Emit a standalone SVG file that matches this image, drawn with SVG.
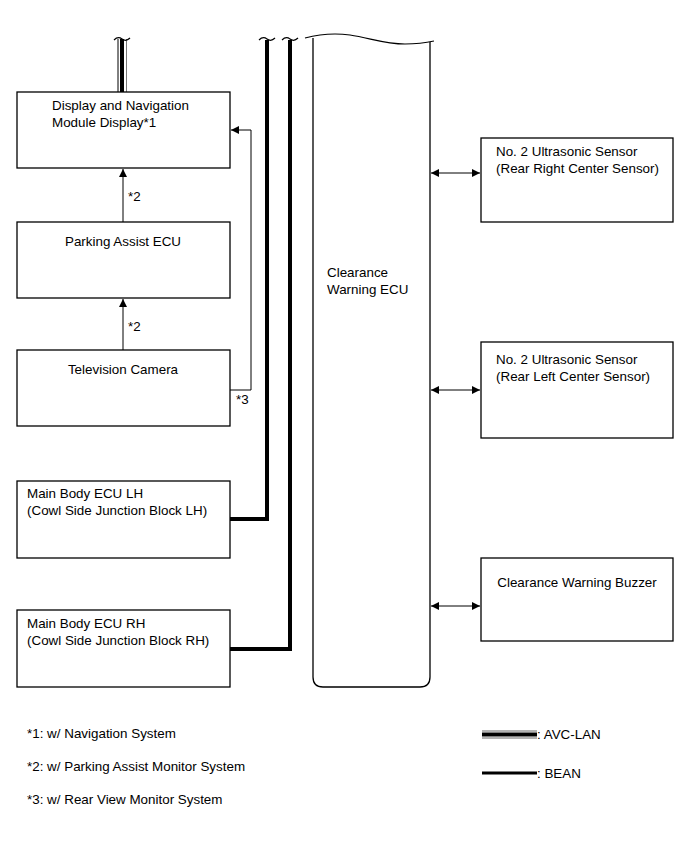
<svg xmlns="http://www.w3.org/2000/svg" width="690" height="854" viewBox="0 0 690 854">
<style>
.box{fill:#fff;stroke:#000;stroke-width:1.3}
.t{font-family:"Liberation Sans",Arial,sans-serif;font-size:13.4px;fill:#000}
.ln{fill:none;stroke:#000;stroke-width:1}
.bean{fill:none;stroke:#000;stroke-width:4}
.sq{fill:none;stroke:#000;stroke-width:1.2}
</style>
<defs>
<marker id="ah" viewBox="0 0 10 10" refX="10" refY="5" markerWidth="10" markerHeight="8" markerUnits="userSpaceOnUse" orient="auto-start-reverse">
<path d="M0,0 L10,5 L0,10 z" fill="#000"/>
</marker>
</defs>
<rect width="690" height="854" fill="#fff"/>
<g id="connectors">
<line x1="118" y1="39" x2="118" y2="92" class="ln"/>
<line x1="126.5" y1="39" x2="126.5" y2="92" stroke="#777" stroke-width="1"/>
<line x1="122" y1="39" x2="122" y2="92" stroke="#000" stroke-width="4"/>
<path d="M114,40 q4,-4 8,-1 q4,3 8,-1" class="sq"/>
<line x1="123" y1="222" x2="123" y2="169" class="ln" marker-end="url(#ah)"/>
<line x1="123" y1="350" x2="123" y2="299" class="ln" marker-end="url(#ah)"/>
<path d="M230,390 H251 V130 H231" class="ln" marker-end="url(#ah)"/>
<path d="M267,40 V519 H230" class="bean"/>
<path d="M290,40 V649 H230" class="bean"/>
<path d="M259,40 q4,-4 8,-1 q4,3 8,-1" class="sq"/>
<path d="M282,40 q4,-4 8,-1 q4,3 8,-1" class="sq"/>
<line x1="431" y1="173" x2="480" y2="173" class="ln" marker-start="url(#ah)" marker-end="url(#ah)"/>
<line x1="431" y1="390" x2="480" y2="390" class="ln" marker-start="url(#ah)" marker-end="url(#ah)"/>
<line x1="431" y1="606" x2="480" y2="606" class="ln" marker-start="url(#ah)" marker-end="url(#ah)"/>
</g>
<g id="display">
<rect x="17" y="92" width="213" height="76" class="box"/>
<text x="52" y="110" class="t">Display and Navigation</text>
<text x="52" y="127" class="t">Module Display*1</text>
</g>
<text x="128" y="201" class="t">*2</text>
<g id="parking">
<rect x="17" y="222" width="213" height="76" class="box"/>
<text x="123" y="246" class="t" text-anchor="middle">Parking Assist ECU</text>
</g>
<text x="128" y="331" class="t">*2</text>
<g id="camera">
<rect x="17" y="350" width="213" height="76" class="box"/>
<text x="123" y="374" class="t" text-anchor="middle">Television Camera</text>
</g>
<text x="236" y="404" class="t">*3</text>
<g id="mainLH">
<rect x="17" y="481" width="213" height="77" class="box"/>
<text x="27" y="498" class="t">Main Body ECU LH</text>
<text x="27" y="515" class="t">(Cowl Side Junction Block LH)</text>
</g>
<g id="mainRH">
<rect x="17" y="610" width="213" height="77" class="box"/>
<text x="27" y="628" class="t">Main Body ECU RH</text>
<text x="27" y="645" class="t">(Cowl Side Junction Block RH)</text>
</g>
<g id="clearanceECU">
<path d="M313,38 V677 Q313,687 323,687 H420 Q430,687 430,677 V42" class="box" fill="none"/>
<path d="M305,38 C320,34 335,33 350,35 C370,38 385,44 405,44 C418,44 425,43 434,41" class="sq"/>
<text x="327" y="277" class="t">Clearance</text>
<text x="327" y="294" class="t">Warning ECU</text>
</g>
<g id="sensorRR">
<rect x="481" y="138" width="192" height="84" class="box"/>
<text x="496" y="156" class="t">No. 2 Ultrasonic Sensor</text>
<text x="496" y="173" class="t">(Rear Right Center Sensor)</text>
</g>
<g id="sensorRL">
<rect x="481" y="342" width="192" height="96" class="box"/>
<text x="496" y="364" class="t">No. 2 Ultrasonic Sensor</text>
<text x="496" y="381" class="t">(Rear Left Center Sensor)</text>
</g>
<g id="buzzer">
<rect x="481" y="558" width="192" height="83" class="box"/>
<text x="577" y="587" class="t" text-anchor="middle">Clearance Warning Buzzer</text>
</g>
<g id="legend">
<text x="27" y="738" class="t">*1: w/ Navigation System</text>
<text x="27" y="771" class="t">*2: w/ Parking Assist Monitor System</text>
<text x="27" y="804" class="t">*3: w/ Rear View Monitor System</text>
<line x1="482" y1="731" x2="537" y2="731" stroke="#666" stroke-width="1"/>
<line x1="482" y1="738" x2="537" y2="738" stroke="#666" stroke-width="1"/>
<line x1="482" y1="734.5" x2="537" y2="734.5" stroke="#000" stroke-width="4"/>
<text x="537" y="739" class="t">: AVC-LAN</text>
<line x1="482" y1="773" x2="537" y2="773" stroke="#000" stroke-width="3"/>
<text x="537" y="778" class="t">: BEAN</text>
</g>
</svg>
